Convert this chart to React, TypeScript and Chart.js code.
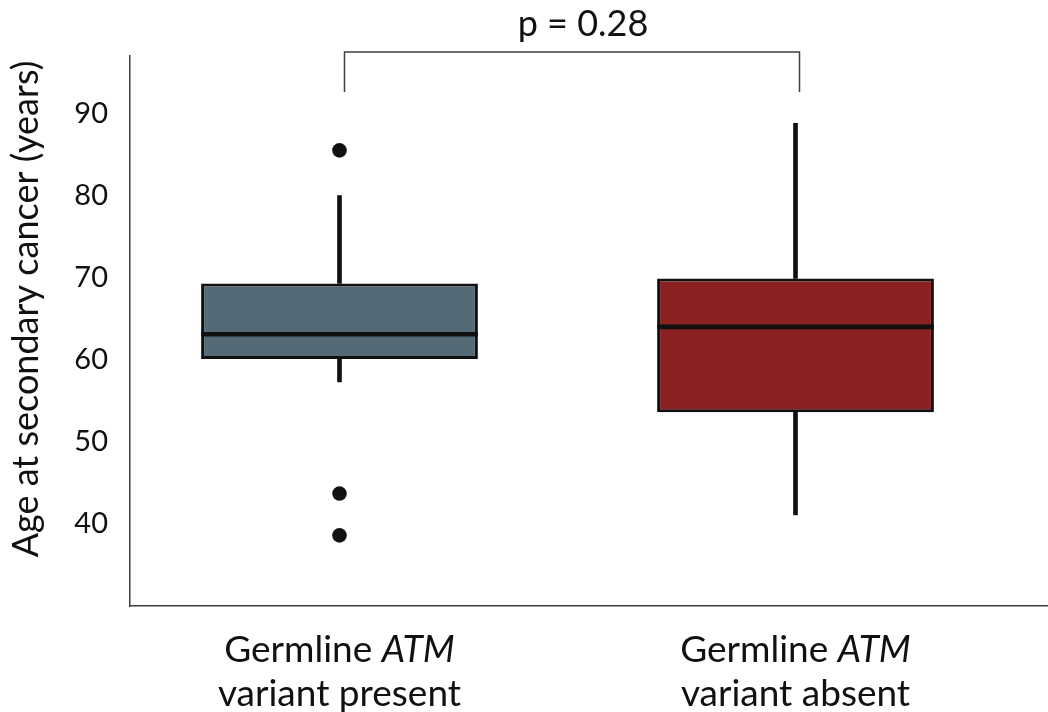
import React, { useEffect, useRef } from 'react';
import { Chart, registerables } from 'chart.js';

Chart.register(...registerables);

// ---- data ----
const categoryLines = [
  ['Germline *ATM*', 'variant present'],
  ['Germline *ATM*', 'variant absent'],
];
const categoryPositions = [1, 2];
const whiskerLow = [57.3, 41.1];
const q1 = [60.1, 53.6];
const median = [63.1, 64.0];
const q3 = [69.3, 69.9];
const whiskerHigh = [80.0, 88.8];
const outliers = [[85.5, 43.7, 38.6], []];
const yTicks = [40, 50, 60, 70, 80, 90];
const yTitle = 'Age at secondary cancer (years)';
const pValueText = 'p = 0.28';
const boxColors = ['#546a77', '#8b2020'];

const FONT = 'Lato, "Noto Sans", sans-serif';
const INK = '#111111';
const AXIS = '#3f3f3f';

const annotPlugin = {
  id: 'annot',
  afterDraw(chart: any) {
    const ctx = chart.ctx;
    const xs = chart.scales.x;
    const ys = chart.scales.y;
    const area = chart.chartArea;
    ctx.save();

    // significance bracket
    const bx1 = xs.getPixelForValue(categoryPositions[0]) + 5;
    const bx2 = xs.getPixelForValue(categoryPositions[1]) + 4;
    const top = area.top - 4;
    const bottom = ys.getPixelForValue(92.6);
    ctx.strokeStyle = AXIS;
    ctx.lineWidth = 1.5;
    ctx.beginPath();
    ctx.moveTo(bx1, bottom);
    ctx.lineTo(bx1, top);
    ctx.lineTo(bx2, top);
    ctx.lineTo(bx2, bottom);
    ctx.stroke();

    ctx.fillStyle = INK;
    ctx.font = `36px ${FONT}`;
    ctx.textAlign = 'center';
    ctx.textBaseline = 'alphabetic';
    ctx.fillText(pValueText, (bx1 + bx2) / 2 + 11, 36);

    // y-axis title
    ctx.save();
    ctx.translate(26, 309);
    ctx.rotate(-Math.PI / 2);
    ctx.font = `36px ${FONT}`;
    ctx.textAlign = 'center';
    ctx.textBaseline = 'middle';
    ctx.fillText(yTitle, 0, 0);
    ctx.restore();

    // category labels with italic gene name
    ctx.textAlign = 'left';
    ctx.textBaseline = 'alphabetic';
    const size = 37;
    categoryLines.forEach((lines, i) => {
      const cx = xs.getPixelForValue(categoryPositions[i]);
      lines.forEach((line, li) => {
        const parts = line.split('*');
        const segs = parts.map((t, k) => ({ t, italic: k % 2 === 1 })).filter((s) => s.t.length);
        let total = 0;
        segs.forEach((s) => {
          ctx.font = `${s.italic ? 'italic ' : ''}${size}px ${FONT}`;
          total += ctx.measureText(s.t).width;
        });
        let x = cx - total / 2;
        const y = area.bottom + 56 + li * 44;
        segs.forEach((s) => {
          ctx.font = `${s.italic ? 'italic ' : ''}${size}px ${FONT}`;
          ctx.fillText(s.t, x, y);
          x += ctx.measureText(s.t).width;
        });
      });
    });

    ctx.restore();
  },
};

export default function App() {
  const canvasRef = useRef<HTMLCanvasElement | null>(null);

  useEffect(() => {
    document.body.style.margin = '0';
    document.body.style.overflow = 'hidden';
    let chart: Chart | null = null;
    let cancelled = false;

    const build = () => {
      if (cancelled || !canvasRef.current) return;
      const bars = (vals: number[][]) =>
        vals.map((v, i) => ({ x: categoryPositions[i], y: v }));

      chart = new Chart(canvasRef.current, {
        type: 'bar',
        data: {
          datasets: [
            {
              label: 'median',
              data: bars(median.map((m) => [m - 0.28, m + 0.28])),
              backgroundColor: INK,
              borderWidth: 0,
              grouped: false,
              barPercentage: 0.607,
              categoryPercentage: 1,
            } as any,
            {
              type: 'scatter',
              label: 'outliers',
              data: outliers.flatMap((arr, i) => arr.map((v) => ({ x: categoryPositions[i], y: v }))),
              backgroundColor: INK,
              borderWidth: 0,
              pointRadius: 7.3,
              showLine: false,
            } as any,
            {
              label: 'box',
              data: bars(q1.map((a, i) => [a, q3[i]])),
              backgroundColor: boxColors,
              borderColor: INK,
              borderWidth: 3,
              borderSkipped: false,
              grouped: false,
              barPercentage: 0.607,
              categoryPercentage: 1,
            } as any,
            {
              label: 'whisker low',
              data: bars(whiskerLow.map((a, i) => [a, q1[i]])),
              backgroundColor: INK,
              borderWidth: 0,
              grouped: false,
              barThickness: 4,
            } as any,
            {
              label: 'whisker high',
              data: bars(q3.map((a, i) => [a, whiskerHigh[i]])),
              backgroundColor: INK,
              borderWidth: 0,
              grouped: false,
              barThickness: 4,
            } as any,
          ],
        },
        options: {
          responsive: false,
          animation: false,
          devicePixelRatio: 1,
          layout: { autoPadding: false, padding: { top: 56, right: 0, bottom: 0, left: 0 } },
          plugins: {
            legend: { display: false },
            tooltip: { enabled: false },
            title: { display: false },
          },
          scales: {
            x: {
              type: 'linear',
              position: 'bottom',
              offset: false,
              min: 0.5406,
              max: 2.5537,
              afterBuildTicks: (s: any) => {
                s.ticks = categoryPositions.map((v) => ({ value: v }));
              },
              afterFit: (s: any) => {
                s.height = 106;
              },
              ticks: { display: false },
              grid: { display: false, drawTicks: false, offset: false },
              border: { display: true, color: AXIS, width: 1.5 },
            },
            y: {
              type: 'linear',
              min: 30,
              max: 97,
              afterBuildTicks: (s: any) => {
                s.ticks = yTicks.map((v) => ({ value: v }));
              },
              afterFit: (s: any) => {
                s.width = 130;
              },
              ticks: {
                color: INK,
                padding: 22,
                font: { family: FONT, size: 29 },
                callback: (v: any) => String(v),
              },
              grid: { display: false, drawTicks: false },
              border: { display: true, color: AXIS, width: 1.5 },
            },
          },
        } as any,
        plugins: [annotPlugin],
      });
    };

    const fontsReady = (document as any).fonts
      ? Promise.all([
          (document as any).fonts.load(`30px Lato`),
          (document as any).fonts.load(`italic 30px Lato`),
        ]).catch(() => null)
      : Promise.resolve(null);
    fontsReady.then(build);

    return () => {
      cancelled = true;
      if (chart) chart.destroy();
    };
  }, []);

  return (
    <div style={{ width: 1048, height: 712, background: '#ffffff' }}>
      <canvas ref={canvasRef} width={1048} height={712} style={{ display: 'block' }} />
    </div>
  );
}
